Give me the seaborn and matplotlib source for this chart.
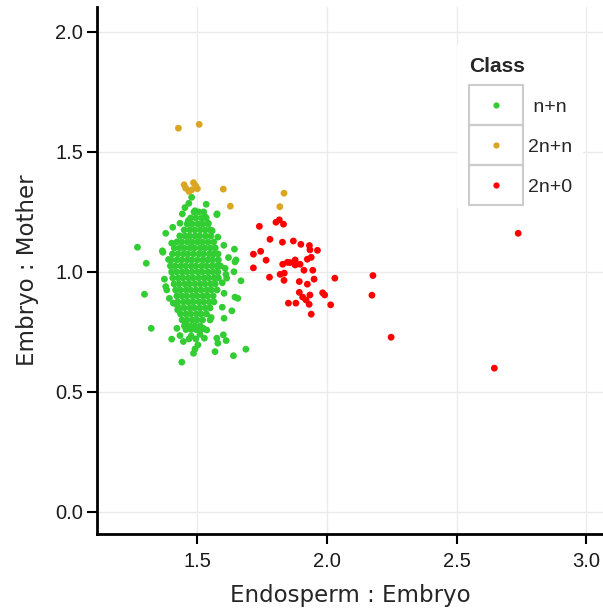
import matplotlib
matplotlib.use("Agg")
import matplotlib.pyplot as plt
from matplotlib.lines import Line2D
from matplotlib.patches import Rectangle
from matplotlib.transforms import IdentityTransform
import pandas as pd
import seaborn as sns

classes = [" n+n", "2n+n", "2n+0"]
colors = ["#32CD32", "#DAA520", "#FF0000"]

# n+n: dense core, one row of Endosperm:Embryo values per Embryo:Mother level
green_core_y = [1.25, 1.225, 1.20, 1.175, 1.15, 1.125, 1.10, 1.075, 1.05, 1.025,
                1.00, 0.975, 0.95, 0.925, 0.90, 0.875, 0.85, 0.825, 0.80, 0.775, 0.76]
green_core_x = [
    [1.487, 1.505, 1.524],
    [1.474, 1.494, 1.516, 1.534],
    [1.461, 1.48, 1.502, 1.52, 1.541],
    [1.449, 1.471, 1.49, 1.511, 1.53, 1.549],
    [1.432, 1.452, 1.47, 1.491, 1.509, 1.531, 1.552],
    [1.421, 1.44, 1.462, 1.48, 1.501, 1.52, 1.541, 1.563],
    [1.411, 1.432, 1.45, 1.471, 1.489, 1.511, 1.53, 1.55, 1.569],
    [1.404, 1.425, 1.446, 1.464, 1.485, 1.506, 1.524, 1.546, 1.563, 1.58],
    [1.399, 1.421, 1.44, 1.461, 1.479, 1.5, 1.521, 1.54, 1.559, 1.581],
    [1.396, 1.414, 1.436, 1.455, 1.476, 1.494, 1.516, 1.535, 1.556, 1.574, 1.589],
    [1.401, 1.42, 1.441, 1.459, 1.48, 1.501, 1.519, 1.541, 1.56, 1.579],
    [1.405, 1.426, 1.444, 1.466, 1.484, 1.505, 1.526, 1.544, 1.565, 1.581],
    [1.41, 1.429, 1.451, 1.469, 1.49, 1.511, 1.529, 1.551, 1.569],
    [1.416, 1.434, 1.456, 1.474, 1.495, 1.514, 1.536, 1.554, 1.576],
    [1.421, 1.44, 1.459, 1.481, 1.499, 1.521, 1.539, 1.561],
    [1.424, 1.446, 1.465, 1.484, 1.506, 1.524, 1.546, 1.564],
    [1.431, 1.449, 1.471, 1.489, 1.51, 1.531, 1.549],
    [1.435, 1.456, 1.474, 1.496, 1.514, 1.535],
    [1.441, 1.46, 1.481, 1.499, 1.52],
    [1.45, 1.471, 1.49, 1.511],
    [1.456, 1.476, 1.495, 1.514],
]

# n+n: scattered points around the core
green_x = [1.478, 1.467, 1.534, 1.491, 1.442, 1.576, 1.465, 1.530, 1.433, 1.542,
           1.405, 1.378, 1.269, 1.365, 1.303, 1.579, 1.602, 1.643, 1.401, 1.607,
           1.641, 1.613, 1.668, 1.373, 1.378, 1.296, 1.392, 1.603, 1.645, 1.656,
           1.421, 1.424, 1.596, 1.633, 1.603, 1.553, 1.549, 1.322, 1.421, 1.433,
           1.401, 1.446, 1.476, 1.468, 1.494, 1.510, 1.527, 1.502, 1.491, 1.485,
           1.575, 1.579, 1.600, 1.611, 1.568, 1.639, 1.687, 1.440, 1.453, 1.523,
           1.536, 1.649, 1.645, 1.575, 1.382, 1.407, 1.367, 1.61, 1.62, 1.389,
           1.596, 1.452, 1.557]
green_y = [1.311, 1.286, 1.282, 1.255, 1.242, 1.242, 1.214, 1.230, 1.203, 1.203,
           1.186, 1.161, 1.103, 1.088, 1.036, 1.145, 1.111, 1.095, 1.120, 1.015,
           1.001, 0.974, 0.963, 0.970, 0.939, 0.907, 0.890, 0.911, 0.895, 0.890,
           0.863, 0.842, 0.853, 0.838, 0.807, 0.810, 0.800, 0.765, 0.765, 0.735,
           0.720, 0.710, 0.733, 0.721, 0.721, 0.740, 0.724, 0.696, 0.679, 0.661,
           0.724, 0.703, 0.738, 0.714, 0.668, 0.651, 0.678, 0.624, 0.779, 0.765,
           0.758, 1.050, 1.042, 1.239, 0.925, 0.870, 1.082, 0.99, 1.06, 1.052,
           0.955, 1.268, 1.172]

# 2n+n
orange_x = [1.427, 1.507, 1.449, 1.455, 1.468, 1.485, 1.494, 1.500, 1.478,
            1.600, 1.627, 1.834, 1.818]
orange_y = [1.599, 1.615, 1.363, 1.349, 1.335, 1.372, 1.358, 1.347, 1.342,
            1.345, 1.274, 1.328, 1.272]

# 2n+0
red_x = [1.816, 1.803, 1.832, 1.739, 1.780, 1.828, 1.870, 1.899, 1.932, 1.934,
         1.963, 1.744, 1.716, 1.765, 1.939, 1.924, 1.829, 1.847, 1.857, 1.877,
         1.877, 1.896, 1.911, 1.945, 1.716, 1.778, 1.819, 1.835, 1.834, 1.893,
         1.924, 1.950, 2.030, 1.893, 1.906, 1.934, 1.983, 1.991, 1.919, 1.931,
         1.851, 1.880, 2.014, 1.939, 2.177, 2.173, 2.247, 2.645, 2.737]
red_y = [1.217, 1.207, 1.199, 1.190, 1.136, 1.124, 1.129, 1.115, 1.110, 1.092,
         1.090, 1.086, 1.074, 1.049, 1.061, 1.053, 1.032, 1.040, 1.039, 1.050,
         1.029, 1.032, 1.007, 1.007, 1.017, 0.978, 0.990, 0.995, 0.965, 0.960,
         0.949, 0.970, 0.974, 0.915, 0.895, 0.904, 0.913, 0.904, 0.883, 0.865,
         0.870, 0.870, 0.863, 0.824, 0.985, 0.903, 0.728, 0.599, 1.161]

rows = []
for y, xs in zip(green_core_y, green_core_x):
    for x in xs:
        rows.append((x, y, classes[0]))
rows += [(x, y, classes[0]) for x, y in zip(green_x, green_y)]
rows += [(x, y, classes[1]) for x, y in zip(orange_x, orange_y)]
rows += [(x, y, classes[2]) for x, y in zip(red_x, red_y)]
df = pd.DataFrame(rows, columns=["ratio_ee", "ratio_em", "Class"])

sns.set_style("white")
plt.rcParams["font.family"] = ["Liberation Sans", "DejaVu Sans"]

fig = plt.figure(figsize=(6.03, 6.12), dpi=100)
ax = fig.add_axes([97 / 603, 1 - 534 / 612, (603 - 97) / 603, (534 - 7) / 612])

sns.scatterplot(data=df, x="ratio_ee", y="ratio_em", hue="Class",
                hue_order=classes, palette=dict(zip(classes, colors)),
                s=24, linewidth=0, alpha=1, legend=False, ax=ax, zorder=3)

ax.set_xlim(1.113, 3.064)
ax.set_ylim(-0.092, 2.104)
ax.set_xticks([1.5, 2.0, 2.5, 3.0])
ax.set_yticks([0.0, 0.5, 1.0, 1.5, 2.0])
ax.set_xticklabels(["1.5", "2.0", "2.5", "3.0"])
ax.set_yticklabels(["0.0", "0.5", "1.0", "1.5", "2.0"])
ax.grid(True, color="#EBEBEB", linewidth=1.0, zorder=0)
ax.set_axisbelow(True)

for side in ["top", "right"]:
    ax.spines[side].set_visible(False)
for side in ["left", "bottom"]:
    ax.spines[side].set_color("black")
    ax.spines[side].set_linewidth(2.0)
ax.tick_params(axis="both", direction="out", length=7.5, width=1.5,
               color="black", labelsize=14.5, labelcolor="#1a1a1a", pad=2.5,
               bottom=True, left=True)
ax.tick_params(axis="x", pad=5.5)

title_font = {"family": "DejaVu Sans", "size": 16.5}
ax.set_xlabel("Endosperm : Embryo", fontdict=title_font, labelpad=9)
ax.set_ylabel("Embryo : Mother", fontdict=title_font, labelpad=12)

# legend with a grey box around every key
fs = 14
handles = [Line2D([0], [0], marker="o", linestyle="", color=c,
                  markersize=4.5, markeredgewidth=0) for c in colors]
leg = ax.legend(handles, classes, title="Class", loc="upper left",
                bbox_to_anchor=(457 / 603, 1 - 45 / 612),
                bbox_transform=fig.transFigure, fontsize=fs,
                title_fontproperties={"weight": "bold", "size": 15},
                handlelength=2.78, labelspacing=1.16,
                handletextpad=0.25, borderpad=0.6, borderaxespad=0,
                frameon=True, fancybox=False, alignment="left")
leg.get_frame().set_facecolor("white")
leg.get_frame().set_edgecolor("none")
leg.get_frame().set_alpha(1)

fig.canvas.draw()
renderer = fig.canvas.get_renderer()
px = fs * fig.dpi / 72
for h in leg.legend_handles:
    bb = h.get_window_extent(renderer)
    cx, cy = (bb.x0 + bb.x1) / 2, (bb.y0 + bb.y1) / 2
    w, hh = 2.78 * px, 40
    fig.add_artist(Rectangle((cx - w / 2, cy - hh / 2), w, hh,
                             transform=IdentityTransform(), fill=False,
                             edgecolor="#CCCCCC", linewidth=1.5, zorder=5))

fig.savefig("out.png", dpi=100)
